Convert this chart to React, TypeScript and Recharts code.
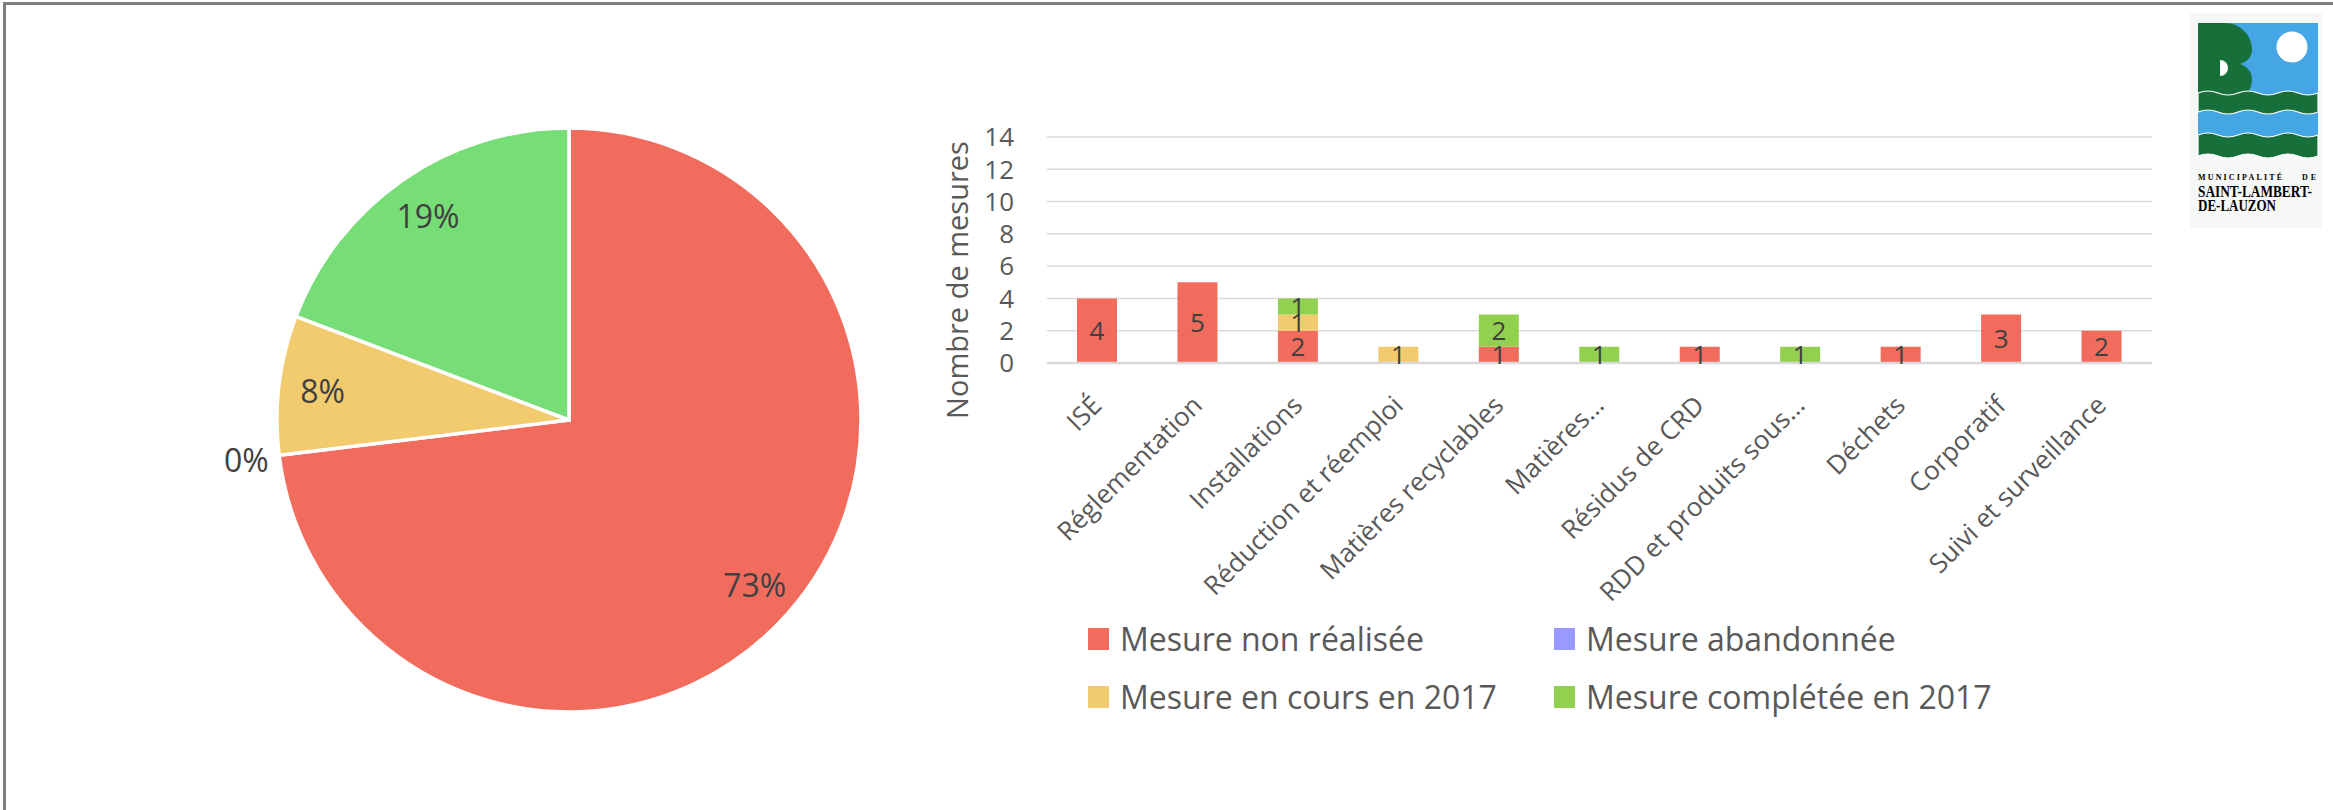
import React from 'react';
import { PieChart, Pie, Cell, BarChart, Bar, XAxis, YAxis, CartesianGrid, LabelList } from 'recharts';

const seriesNames = ['Mesure non réalisée', 'Mesure abandonnée', 'Mesure en cours en 2017', 'Mesure complétée en 2017'];
const barColors = ['#F26C5E', '#9999FF', '#F2CB6F', '#92D050'];
const pieColors = ['#F26C5E', '#9999FF', '#F2CB6F', '#77DD77'];

// total count per status (pie)
const pieValues = [19, 0, 2, 5];

const categories = [
  'ISÉ',
  'Réglementation',
  'Installations',
  'Réduction et réemploi',
  'Matières recyclables',
  'Matières…',
  'Résidus de CRD',
  'RDD et produits sous…',
  'Déchets',
  'Corporatif',
  'Suivi et surveillance',
];
const nonRealisee = [4, 5, 2, 0, 1, 0, 1, 0, 1, 3, 2];
const abandonnee = [0, 0, 0, 0, 0, 0, 0, 0, 0, 0, 0];
const enCours = [0, 0, 1, 1, 0, 0, 0, 0, 0, 0, 0];
const completee = [0, 0, 1, 0, 2, 1, 0, 1, 0, 0, 0];
const yTicks = [0, 2, 4, 6, 8, 10, 12, 14];

const FONT = '"Open Sans", sans-serif';
const seriesKeys = ['nonRealisee', 'abandonnee', 'enCours', 'completee'];

const barData = categories.map((name, i) => ({
  name,
  nonRealisee: nonRealisee[i],
  abandonnee: abandonnee[i],
  enCours: enCours[i],
  completee: completee[i],
}));

const pieData = seriesNames.map((name, i) => ({ name, value: pieValues[i] }));

const RAD = Math.PI / 180;

const renderPieLabel = (props: any) => {
  const { cx, cy, midAngle, outerRadius, percent } = props;
  const r = percent === 0 ? outerRadius + 33 : outerRadius * 0.85;
  const x = cx + r * Math.cos(-midAngle * RAD);
  const y = cy + r * Math.sin(-midAngle * RAD);
  return (
    <text x={x} y={y} fill="#404040" fontSize={32} fontFamily={FONT} textAnchor="middle" dominantBaseline="central">
      {`${Math.round(percent * 100)}%`}
    </text>
  );
};

const renderCategoryTick = (props: any) => {
  const { x, y, payload } = props;
  const px = x + 6;
  const py = y + 42;
  return (
    <text x={px} y={py} transform={`rotate(-45, ${px}, ${py})`} textAnchor="end" fill="#595959" fontSize={26} fontFamily={FONT}>
      {payload.value}
    </text>
  );
};

const renderAxisTitle = () => (
  <text x={56} y={280} transform="rotate(-90, 56, 280)" textAnchor="middle" dominantBaseline="central" fill="#595959" fontSize={29} fontFamily={FONT}>
    Nombre de mesures
  </text>
);

const wavePath = (y0: number, y1: number) => {
  const xs = [8, 28, 48, 68, 88, 108, 128];
  let d = `M8,${y0}`;
  for (let i = 0; i < xs.length - 1; i++) {
    const a = xs[i], b = xs[i + 1], up = i % 2 === 0 ? -4 : 4;
    d += ` Q${(a + b) / 2},${y0 + up} ${b},${y0}`;
  }
  d += ` L128,${y1}`;
  for (let i = xs.length - 1; i > 0; i--) {
    const a = xs[i], b = xs[i - 1], up = (i - 1) % 2 === 0 ? -4 : 4;
    d += ` Q${(a + b) / 2},${y1 + up} ${b},${y1}`;
  }
  return d + ' Z';
};

const Logo = () => (
  <svg width={132} height={215} style={{ position: 'absolute', left: 2190, top: 13 }}>
    <rect x={0} y={0} width={132} height={215} fill="#f6f8f8" />
    <rect x={8} y={10} width={120} height={118} fill="#45A6E6" />
    <circle cx={102} cy={34} r={15.5} fill="#fff" />
    <path d="M8,10 L35,10 C50,10 62,22 62,37 C62,44 57,49 50,51 C57,53 62,59 62,66 C62,72 60,76 57,82 L8,82 Z" fill="#17703A" />
    <path d="M30,47 A8,8 0 0 1 30,63 Z" fill="#fff" />
    <path d={wavePath(80, 99)} fill="#17703A" stroke="#fff" strokeWidth={1.2} />
    <path d={wavePath(122, 143)} fill="#17703A" stroke="#fff" strokeWidth={1.2} />
    <text x={8} y={167} fontSize={8} fontWeight="bold" fontFamily='"Liberation Serif", serif' textLength={84} lengthAdjust="spacing">MUNICIPALITÉ</text>
    <text x={112} y={167} fontSize={8} fontWeight="bold" fontFamily='"Liberation Serif", serif' textLength={14} lengthAdjust="spacing">DE</text>
    <text x={8} y={184} fontSize={16} fontWeight="bold" fontFamily='"Liberation Serif", serif' textLength={114} lengthAdjust="spacingAndGlyphs">SAINT-LAMBERT-</text>
    <text x={8} y={198} fontSize={16} fontWeight="bold" fontFamily='"Liberation Serif", serif' textLength={78} lengthAdjust="spacingAndGlyphs">DE-LAUZON</text>
  </svg>
);

const Legend = () => (
  <div
    style={{
      position: 'absolute',
      left: 1088,
      top: 610,
      display: 'grid',
      gridTemplateColumns: '466px 466px',
      gridAutoRows: '58px',
      fontFamily: FONT,
    }}
  >
    {seriesNames.map((label, idx) => (
      <div key={idx} style={{ display: 'flex', alignItems: 'center', height: 58 }}>
        <div style={{ width: 21, height: 22, background: barColors[idx], marginRight: 11, flexShrink: 0 }} />
        <span style={{ fontSize: 32, color: '#595959', whiteSpace: 'nowrap', lineHeight: '58px' }}>{label}</span>
      </div>
    ))}
  </div>
);

export default function App() {
  return (
    <div style={{ position: 'absolute', left: 0, top: 0, width: 2333, height: 810, background: '#fff', overflow: 'hidden', fontFamily: FONT }}>
      <div style={{ position: 'absolute', left: 3, top: 2, width: 2500, height: 1000, borderLeft: '3px solid #7f7f7f', borderTop: '3px solid #7f7f7f' }} />

      <div style={{ position: 'absolute', left: 0, top: 0 }}>
        <PieChart width={900} height={810}>
          <Pie
            data={pieData}
            dataKey="value"
            nameKey="name"
            cx={564}
            cy={415}
            outerRadius={292}
            startAngle={90}
            endAngle={-270}
            stroke="#ffffff"
            strokeWidth={3.5}
            label={renderPieLabel}
            labelLine={false}
            isAnimationActive={false}
          >
            {pieData.map((entry, i) => (
              <Cell key={`pie-${i}`} fill={pieColors[i]} />
            ))}
          </Pie>
        </PieChart>
      </div>

      <div style={{ position: 'absolute', left: 900, top: 0 }}>
        <BarChart width={1300} height={810} data={barData} margin={{ top: 137, right: 48, left: 87, bottom: 417 }}>
          <CartesianGrid vertical={false} stroke="#d9d9d9" strokeWidth={1.5} />
          <XAxis
            dataKey="name"
            interval={0}
            height={30}
            tick={renderCategoryTick}
            tickLine={false}
            tickSize={0}
            axisLine={{ stroke: '#d9d9d9', strokeWidth: 2.5 }}
          />
          <YAxis
            domain={[0, 14]}
            ticks={yTicks}
            interval={0}
            width={60}
            axisLine={false}
            tickLine={false}
            tickSize={0}
            tickMargin={33}
            tick={{ fill: '#595959', fontSize: 26, fontFamily: FONT }}
            label={renderAxisTitle}
          />
          {seriesKeys.map((key, i) => (
            <Bar key={key} dataKey={key} name={seriesNames[i]} stackId="s" fill={barColors[i]} barSize={40} isAnimationActive={false}>
              <LabelList
                dataKey={key}
                position="center"
                fill="#404040"
                fontSize={26}
                fontFamily={FONT}
                formatter={(v: any) => (v > 0 ? v : '')}
              />
            </Bar>
          ))}
        </BarChart>
      </div>

      <Legend />
      <Logo />
    </div>
  );
}
